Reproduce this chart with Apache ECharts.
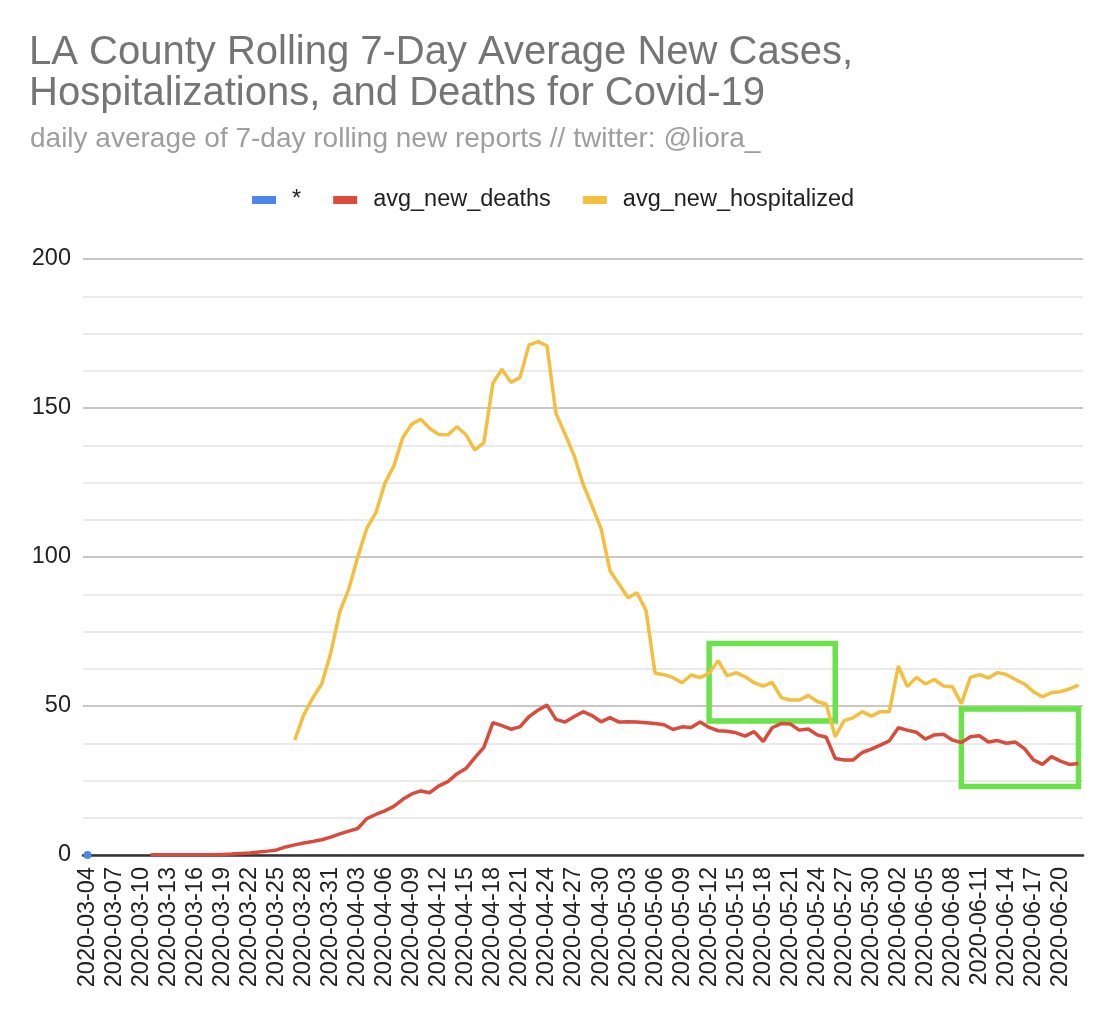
<!DOCTYPE html>
<html>
<head>
<meta charset="utf-8">
<title>LA County Covid-19 rolling averages</title>
<script src="https://cdn.jsdelivr.net/npm/echarts@6/dist/echarts.min.js"></script>
<style>
  html, body { margin: 0; padding: 0; background: #fff; }
  #main { width: 1112px; height: 1024px; }
</style>
</head>
<body>
<div id="main"></div>
<script>
// first day of the series, one category per day
const startDate = '2020-03-04';
const dayCount = 111;

// blue "*" series: only a single point on the first day
const starValues = [0];

// avg_new_deaths, starts on 2020-03-11 (index 7)
const deathsValues = [
  null, null, null, null, null, null, null,
  0.1, 0.1, 0.1, 0.1, 0.1, 0.1, 0.1, 0.1, 0.2, 0.3,
  0.5, 0.7, 1.0, 1.3, 1.7, 2.7, 3.4, 4.0, 4.5, 5.1,
  6.0, 7.1, 8.0, 8.9, 12.2, 13.6, 14.8, 16.3, 18.7, 20.5,
  21.5, 20.9, 23.2, 24.6, 27.2, 29.0, 32.7, 36.1, 44.4, 43.4,
  42.2, 43.0, 46.4, 48.6, 50.3, 45.5, 44.6, 46.4, 48.1, 46.8,
  44.7, 46.1, 44.6, 44.7, 44.6, 44.4, 44.1, 43.7, 42.1, 43.0,
  42.8, 44.6, 42.8, 41.7, 41.5, 41.0, 39.9, 41.4, 38.1, 42.7,
  44.1, 44.0, 41.9, 42.3, 40.3, 39.5, 32.4, 31.9, 31.9, 34.4,
  35.5, 36.9, 38.3, 42.7, 41.9, 41.2, 38.9, 40.3, 40.5, 38.6,
  37.7, 39.7, 40.0, 37.9, 38.4, 37.5, 37.9, 35.7, 31.9, 30.4,
  33.0, 31.5, 30.4, 30.7
];

// avg_new_hospitalized, starts on 2020-03-27 (index 23)
const hospValues = [
  null, null, null, null, null, null, null, null, null, null,
  null, null, null, null, null, null, null, null, null, null,
  null, null, null,
  38.6, 47.0, 52.7, 57.4, 67.8, 81.6, 89.2, 100.1, 109.6, 114.8,
  124.7, 130.5, 140.1, 144.6, 146.2, 143.1, 141.1, 141.0, 143.7, 141.1,
  135.9, 138.4, 158.3, 163.0, 158.6, 160.2, 171.1, 172.3, 170.9, 148.2,
  141.3, 134.2, 124.5, 117.2, 109.5, 95.4, 90.9, 86.3, 88.0, 82.0,
  61.0, 60.5, 59.5, 57.8, 60.4, 59.5, 61.0, 65.2, 60.1, 61.2,
  59.8, 57.8, 56.7, 57.9, 52.8, 52.0, 52.0, 53.5, 51.5, 50.6,
  39.7, 45.1, 46.1, 48.1, 46.6, 48.1, 48.1, 63.4, 56.5, 59.6,
  57.4, 58.9, 56.7, 56.5, 50.8, 59.6, 60.5, 59.4, 61.2, 60.6,
  58.9, 57.4, 54.8, 53.1, 54.5, 54.8, 55.7, 57.0
];

// green highlight boxes: [startIndex, topValue, endIndex, bottomValue]
const highlightBoxes = [
  [69, 71, 83, 45],
  [97, 49, 110, 23]
];

const dates = [];
const d0 = new Date(startDate + 'T00:00:00Z');
for (let i = 0; i < dayCount; i++) {
  const d = new Date(d0.getTime() + i * 86400000);
  dates.push(d.toISOString().slice(0, 10));
}

const font = 'Arial, "Liberation Sans", sans-serif';

const myChart = echarts.init(document.getElementById('main'));

const option = {
  animation: false,
  backgroundColor: '#fff',
  textStyle: { fontFamily: font },
  title: [
    {
      text: 'LA County Rolling 7-Day Average New Cases,\nHospitalizations, and Deaths for Covid-19',
      left: 29,
      top: 32,
      padding: 0,
      textStyle: {
        fontFamily: font,
        fontSize: 40,
        lineHeight: 41,
        fontWeight: 'normal',
        color: '#757575'
      }
    },
    {
      text: 'daily average of 7-day rolling new reports // twitter: @liora_',
      left: 30,
      top: 125,
      padding: 0,
      textStyle: {
        fontFamily: font,
        fontSize: 28,
        fontWeight: 'normal',
        color: '#9e9e9e'
      }
    }
  ],
  legend: {
    left: 252,
    top: 188,
    padding: 0,
    icon: 'rect',
    itemWidth: 24,
    itemHeight: 8,
    itemGap: 32,
    textStyle: {
      fontFamily: font,
      fontSize: 23.5,
      color: '#222',
      padding: [0, 0, 0, 11]
    },
    data: ['*', 'avg_new_deaths', 'avg_new_hospitalized']
  },
  grid: {
    left: 83,
    right: 29,
    top: 259,
    bottom: 169
  },
  xAxis: {
    type: 'category',
    data: dates,
    axisLine: { lineStyle: { color: '#333', width: 2.5 } },
    axisTick: { show: false },
    axisLabel: {
      rotate: 90,
      interval: 2,
      margin: 12,
      fontFamily: font,
      fontSize: 23.5,
      color: '#222'
    },
    splitLine: { show: false }
  },
  yAxis: {
    type: 'value',
    min: 0,
    max: 200,
    interval: 50,
    axisLine: { show: false },
    axisTick: { show: false },
    axisLabel: {
      margin: 12,
      fontFamily: font,
      fontSize: 23.5,
      color: '#222'
    },
    splitLine: { lineStyle: { color: '#c8c8c8', width: 2 } },
    minorTick: { show: false, splitNumber: 4 },
    minorSplitLine: { show: true, lineStyle: { color: '#e4e4e4', width: 1.5 } }
  },
  series: [
    {
      name: '*',
      type: 'line',
      data: starValues,
      color: '#4f86ec',
      symbol: 'circle',
      symbolSize: 8,
      showSymbol: true,
      lineStyle: { width: 3.5 },
      emphasis: { disabled: true }
    },
    {
      name: 'avg_new_deaths',
      type: 'line',
      data: deathsValues,
      color: '#db4b3c',
      showSymbol: false,
      symbol: 'none',
      lineStyle: { width: 3.5 },
      emphasis: { disabled: true }
    },
    {
      name: 'avg_new_hospitalized',
      type: 'line',
      data: hospValues,
      color: '#f4be3e',
      showSymbol: false,
      symbol: 'none',
      lineStyle: { width: 3.5 },
      emphasis: { disabled: true },
      markArea: {
        silent: true,
        itemStyle: {
          color: 'rgba(0,0,0,0)',
          borderColor: '#6be24a',
          borderWidth: 5.5
        },
        data: highlightBoxes.map(function (b) {
          return [{ coord: [b[0], b[1]] }, { coord: [b[2], b[3]] }];
        })
      }
    }
  ]
};

myChart.setOption(option);
</script>
</body>
</html>
